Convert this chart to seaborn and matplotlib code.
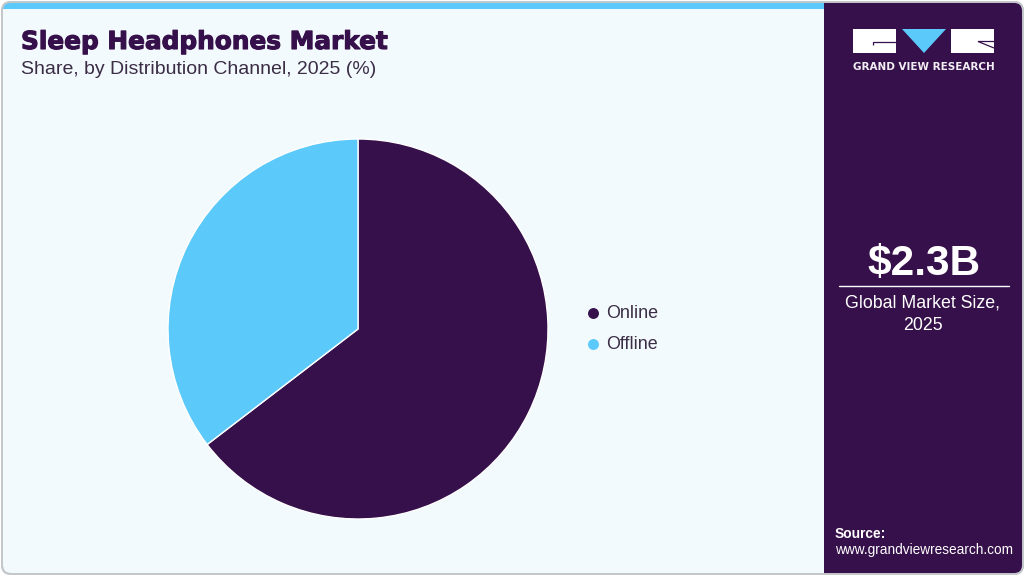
import matplotlib
matplotlib.use("Agg")
import matplotlib.pyplot as plt
import matplotlib.patheffects as pe
from matplotlib.patches import FancyBboxPatch, Rectangle, Polygon
from matplotlib.path import Path
from matplotlib.patches import PathPatch
import seaborn as sns

channels = ["Online", "Offline"]
shares = [64.6, 35.4]
title = "Sleep Headphones Market"
subtitle = "Share, by Distribution Channel, 2025 (%)"
market_size = "$2.3B"
market_caption = "Global Market Size,\n2025"
source_head = "Source:"
source_url = "www.grandviewresearch.com"
logo_text = "GRAND VIEW RESEARCH"

PURPLE = "#36104a"
BLUE = "#5bc9f9"
PANEL = "#f3fafd"

sns.set_theme(style="white")
plt.rcParams["font.family"] = ["Liberation Sans", "DejaVu Sans"]

W, H = 1025, 576
fig = plt.figure(figsize=(W / 100, H / 100), dpi=100, facecolor="white")
bg = fig.add_axes([0, 0, 1, 1])
bg.set_xlim(0, W)
bg.set_ylim(H, 0)
bg.axis("off")

# Outer card: rounded, clipped panels inside
card = FancyBboxPatch((2, 2), W - 4, H - 4, boxstyle="round,pad=0,rounding_size=9",
                      fc=PANEL, ec="#c4c8ca", lw=1.4, zorder=1)
bg.add_patch(card)
top = Rectangle((0, 0), W, 8.8, fc=BLUE, ec="none", zorder=2)
bg.add_patch(top)
top.set_clip_path(card)
side = Rectangle((824, 0), W - 824, H, fc=PURPLE, ec="none", zorder=3)
bg.add_patch(side)
side.set_clip_path(card)
edge = FancyBboxPatch((2, 2), W - 4, H - 4, boxstyle="round,pad=0,rounding_size=9",
                      fc="none", ec="#c4c8ca", lw=1.4, zorder=4)
bg.add_patch(edge)

# Titles
bg.text(21, 42, title, fontsize=17.85, fontweight="bold", color=PURPLE, va="center", ha="left",
        zorder=5, fontfamily=["DejaVu Sans"],
        path_effects=[pe.withStroke(linewidth=0.8, foreground=PURPLE)])
bg.text(21, 69.5, subtitle, fontsize=14.03, color="#3a2d45", va="center", ha="left", zorder=5)

# Logo
bg.add_patch(Rectangle((853, 29), 43, 24, fc="white", ec="none", zorder=5))
bg.add_patch(Polygon([[902, 29], [946, 29], [924, 53]], closed=True, fc=BLUE, ec="none", zorder=5))
bg.add_patch(Rectangle((951, 29), 43, 24, fc="white", ec="none", zorder=5))
bg.add_patch(PathPatch(Path([(896, 41.5), (873, 41.5), (873, 45)]), fc="none", ec=PURPLE, lw=0.9, zorder=6))
bg.add_patch(PathPatch(Path([(994, 48), (978, 41.5), (994, 41.5)]), fc="none", ec=PURPLE, lw=0.9, zorder=6))
bg.text(924, 67, logo_text, fontsize=7.45, fontweight="bold", color="#f1eef3", ha="center", va="center",
        zorder=5, fontfamily=["DejaVu Sans"])

# Side panel
bg.text(924.5, 263.5, market_size, fontsize=30.5, fontweight="bold", color="white", ha="center", va="center", zorder=5)
bg.plot([839, 1009], [285.5, 285.5], color="white", lw=1, zorder=5)
bg.text(922.5, 314, market_caption, fontsize=12.8, color="white", ha="center", va="center",
        linespacing=1.43, zorder=5)
bg.text(835, 533.5, source_head, fontsize=9.9, fontweight="bold", color="white", ha="left", va="center", zorder=5)
bg.text(835, 550, source_url, fontsize=9.8, color="white", ha="left", va="center", zorder=5)

# Pie
cx, cy, r = 358, 329, 190
ax = fig.add_axes([(cx - r) / W, 1 - (cy + r) / H, 2 * r / W, 2 * r / H])
ax.pie(shares, colors=[PURPLE, BLUE], startangle=90, counterclock=False, radius=1,
       wedgeprops=dict(edgecolor="white", linewidth=1))
ax.set_xlim(-1, 1)
ax.set_ylim(-1, 1)
ax.patch.set_alpha(0)

# Legend
for name, col, y, ty in zip(channels, [PURPLE, BLUE], [312.5, 343.5], [313, 344.5]):
    bg.scatter([592.5], [y], s=62, color=col, zorder=5, linewidths=0)
    bg.text(606, ty, name, fontsize=12.9, color="#3a2d45", ha="left", va="center", zorder=5)

fig.savefig("out.png", dpi=100)
